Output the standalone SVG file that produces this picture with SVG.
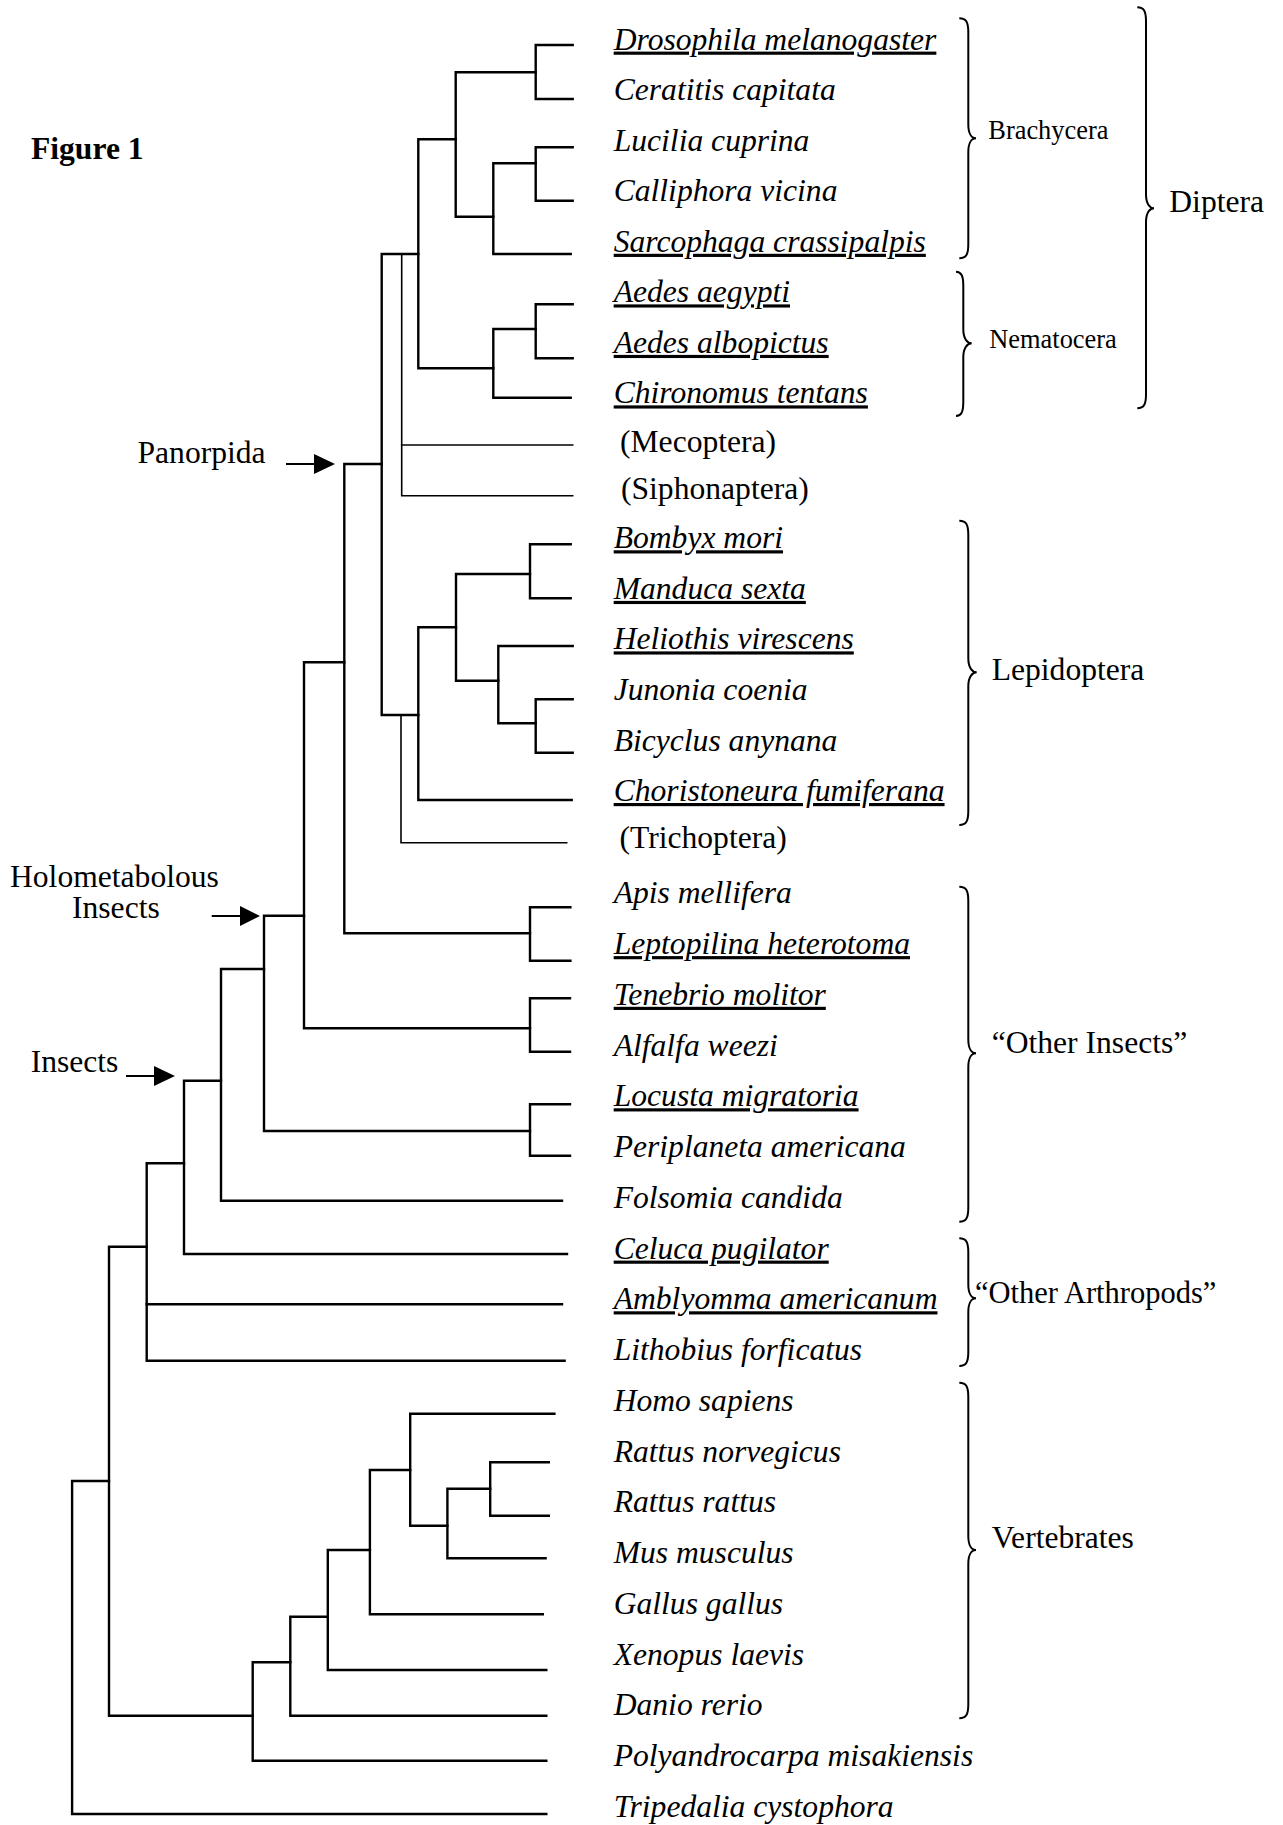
<svg xmlns="http://www.w3.org/2000/svg" width="1283" height="1825" viewBox="0 0 1283 1825">
<style>
text{font-family:"Liberation Serif","Times New Roman",serif;font-size:31.6px;fill:#000}
.sp{font-style:italic}
.u{text-decoration:underline}
.sm{font-size:26.4px}
.b{font-weight:bold}
.tr path{fill:none;stroke:#000;stroke-width:2.4;stroke-linejoin:miter;stroke-linecap:square}
.tr path.thin{stroke-width:1.6}
.br path{fill:none;stroke:#000;stroke-width:2}
.ar line{stroke:#000;stroke-width:2}
.ar polygon{fill:#000}
</style>
<rect width="1283" height="1825" fill="#fff"/>
<g id="connectors" class="tr">
<path d="M572.7 45 H535.7 V99 H572.7"/>
<path d="M535.7 72.3 H455.7 V216.7 H493.3"/>
<path d="M572.7 147.3 H535.7 V200.7 H572.7"/>
<path d="M535.7 163.3 H493.3 V254 H570.7"/>
<path d="M455.7 139.3 H418.3 V368.3 H493.3"/>
<path d="M572.7 304.3 H535.7 V358.3 H572.7"/>
<path d="M535.7 329 H493.3 V397.7 H570.7"/>
<path d="M418.3 254 H381.7 V715 H418.3"/>
<path class="thin" d="M401.7 254 V495.7 H572.7"/>
<path class="thin" d="M401.7 445 H572.7"/>
<path d="M381.7 464 H344.3 V933.3 H530"/>
<path d="M570.7 544.3 H530 V598.3 H570.7"/>
<path d="M530 574 H456 V680.7 H498.3"/>
<path d="M572.7 646 H498.3 V723.3 H535.7"/>
<path d="M572.7 699.3 H535.7 V752.7 H572.7"/>
<path d="M456 627.3 H418.3 V800 H571.7"/>
<path class="thin" d="M401 715 V842.7 H566.7"/>
<path d="M570.4 907.3 H530 V960.7 H570.4"/>
<path d="M344.3 662.3 H304 V1028.3 H530"/>
<path d="M570 998.3 H530 V1051.7 H570"/>
<path d="M304 915.7 H264 V1131 H530"/>
<path d="M570 1104.3 H530 V1155.7 H570"/>
<path d="M264 969 H221 V1200.7 H562"/>
<path d="M221 1080.7 H184 V1254 H567"/>
<path d="M184 1163.3 H146.7 V1360.7 H564.6"/>
<path d="M146.7 1304.3 H562"/>
<path d="M146.7 1246.7 H109 V1715.7 H252.7"/>
<path d="M109 1481 H72.1 V1814 H546.3"/>
<path d="M546.3 1760.7 H252.7 V1662.3 H290.3"/>
<path d="M546.3 1715.7 H290.3 V1616.7 H327.8"/>
<path d="M546.3 1670 H327.8 V1550 H369.9"/>
<path d="M542.8 1614.3 H369.9 V1470 H410.2"/>
<path d="M554.4 1413.7 H410.2 V1525.7 H447.4"/>
<path d="M545.6 1558.3 H447.4 V1488.7 H490.2"/>
<path d="M548.8 1462.3 H490.2 V1515.7 H548.8"/>
</g>
<g id="arrows" class="ar">
<line x1="286" y1="464" x2="318" y2="464"/><polygon points="314,454 335,464 314,474"/>
<line x1="211.7" y1="916" x2="243" y2="916"/><polygon points="240,906 260,916 240,926"/>
<line x1="126" y1="1076" x2="157" y2="1076"/><polygon points="154,1066 175,1076 154,1086"/>
</g>
<g id="braces" class="br">
<path d="M959.3 18.3 C966.3 18.3 968.3 22.3 968.3 32.3 L968.3 124.3 C968.3 134.3 972 138.3 976 138.3 C972 138.3 968.3 142.3 968.3 152.3 L968.3 244.3 C968.3 254.3 966.3 258.3 959.3 258.3"/>
<path d="M956 271.7 C961.3 271.7 963.3 275.7 963.3 285.7 L963.3 329.3 C963.3 339.3 967.7 343.3 971.7 343.3 C967.7 343.3 963.3 347.3 963.3 357.3 L963.3 402 C963.3 412 961.3 416 956 416"/>
<path d="M1137.3 7.3 C1144 7.3 1146 11.3 1146 21.3 L1146 194.3 C1146 204.3 1150 208.3 1154 208.3 C1150 208.3 1146 212.3 1146 222.3 L1146 394.3 C1146 404.3 1144 408.3 1137.3 408.3"/>
<path d="M959.3 520.7 C966.3 520.7 968.3 524.7 968.3 534.7 L968.3 658.3 C968.3 668.3 972.7 672.3 976.7 672.3 C972.7 672.3 968.3 676.3 968.3 686.3 L968.3 811 C968.3 821 966.3 825 959.3 825"/>
<path d="M959.3 886.7 C966.3 886.7 968.3 890.7 968.3 900.7 L968.3 1039.3 C968.3 1049.3 972 1053.3 976 1053.3 C972 1053.3 968.3 1057.3 968.3 1067.3 L968.3 1207.7 C968.3 1217.7 966.3 1221.7 959.3 1221.7"/>
<path d="M959.3 1238.3 C966.3 1238.3 968.3 1242.3 968.3 1252.3 L968.3 1284.3 C968.3 1294.3 972 1298.3 976 1298.3 C972 1298.3 968.3 1302.3 968.3 1312.3 L968.3 1352 C968.3 1362 966.3 1366 959.3 1366"/>
<path d="M959.3 1382.7 C966.3 1382.7 968.3 1386.7 968.3 1396.7 L968.3 1536 C968.3 1546 972 1550 976 1550 C972 1550 968.3 1554 968.3 1564 L968.3 1704.3 C968.3 1714.3 966.3 1718.3 959.3 1718.3"/>
</g>
<g id="title"><text class="b" x="31" y="159.3">Figure 1</text></g>
<g id="lbl-panorpida"><text x="137.5" y="463.3">Panorpida</text></g>
<g id="lbl-holometabolous"><text x="10" y="887.3">Holometabolous<tspan x="72" y="918.3">Insects</tspan></text></g>
<g id="lbl-insects"><text x="30.7" y="1071.5">Insects</text></g>
<g id="leaf-drosophila"><text class="sp u" x="613.7" y="49.6">Drosophila melanogaster</text></g>
<g id="leaf-ceratitis"><text class="sp" x="613.7" y="100.2">Ceratitis capitata</text></g>
<g id="leaf-lucilia"><text class="sp" x="613.7" y="150.7">Lucilia cuprina</text></g>
<g id="leaf-calliphora"><text class="sp" x="613.7" y="201.3">Calliphora vicina</text></g>
<g id="leaf-sarcophaga"><text class="sp u" x="613.7" y="251.8">Sarcophaga crassipalpis</text></g>
<g id="leaf-aedes-aegypti"><text class="sp u" x="613.7" y="302.4">Aedes aegypti</text></g>
<g id="leaf-aedes-albopictus"><text class="sp u" x="613.7" y="352.9">Aedes albopictus</text></g>
<g id="leaf-chironomus"><text class="sp u" x="613.7" y="403.4">Chironomus tentans</text></g>
<g id="leaf-mecoptera"><text x="620" y="451.5">(Mecoptera)</text></g>
<g id="leaf-siphonaptera"><text x="621" y="498.5">(Siphonaptera)</text></g>
<g id="leaf-bombyx"><text class="sp u" x="613.7" y="548.3">Bombyx mori</text></g>
<g id="leaf-manduca"><text class="sp u" x="613.7" y="598.9">Manduca sexta</text></g>
<g id="leaf-heliothis"><text class="sp u" x="613.7" y="649.4">Heliothis virescens</text></g>
<g id="leaf-junonia"><text class="sp" x="613.7" y="700">Junonia coenia</text></g>
<g id="leaf-bicyclus"><text class="sp" x="613.7" y="750.5">Bicyclus anynana</text></g>
<g id="leaf-choristoneura"><text class="sp u" x="613.7" y="801">Choristoneura fumiferana</text></g>
<g id="leaf-trichoptera"><text x="619.5" y="848.3">(Trichoptera)</text></g>
<g id="leaf-apis"><text class="sp" x="613.7" y="903.3">Apis mellifera</text></g>
<g id="leaf-leptopilina"><text class="sp u" x="613.7" y="954.1">Leptopilina heterotoma</text></g>
<g id="leaf-tenebrio"><text class="sp u" x="613.7" y="1004.8">Tenebrio molitor</text></g>
<g id="leaf-alfalfa"><text class="sp" x="613.7" y="1055.6">Alfalfa weezi</text></g>
<g id="leaf-locusta"><text class="sp u" x="613.7" y="1106.3">Locusta migratoria</text></g>
<g id="leaf-periplaneta"><text class="sp" x="613.7" y="1157.1">Periplaneta americana</text></g>
<g id="leaf-folsomia"><text class="sp" x="613.7" y="1207.8">Folsomia candida</text></g>
<g id="leaf-celuca"><text class="sp u" x="613.7" y="1258.6">Celuca pugilator</text></g>
<g id="leaf-amblyomma"><text class="sp u" x="613.7" y="1309.3">Amblyomma americanum</text></g>
<g id="leaf-lithobius"><text class="sp" x="613.7" y="1360">Lithobius forficatus</text></g>
<g id="leaf-homo"><text class="sp" x="613.7" y="1410.8">Homo sapiens</text></g>
<g id="leaf-rattus-norvegicus"><text class="sp" x="613.7" y="1461.6">Rattus norvegicus</text></g>
<g id="leaf-rattus-rattus"><text class="sp" x="613.7" y="1512.3">Rattus rattus</text></g>
<g id="leaf-mus"><text class="sp" x="613.7" y="1563">Mus musculus</text></g>
<g id="leaf-gallus"><text class="sp" x="613.7" y="1613.8">Gallus gallus</text></g>
<g id="leaf-xenopus"><text class="sp" x="613.7" y="1664.5">Xenopus laevis</text></g>
<g id="leaf-danio"><text class="sp" x="613.7" y="1715.3">Danio rerio</text></g>
<g id="leaf-polyandrocarpa"><text class="sp" x="613.7" y="1766">Polyandrocarpa misakiensis</text></g>
<g id="leaf-tripedalia"><text class="sp" x="613.7" y="1816.8">Tripedalia cystophora</text></g>
<g id="grp-brachycera"><text class="sm" x="988.3" y="139.3">Brachycera</text></g>
<g id="grp-nematocera"><text class="sm" x="989.3" y="347.7">Nematocera</text></g>
<g id="grp-diptera"><text x="1169.3" y="212.3">Diptera</text></g>
<g id="grp-lepidoptera"><text x="991.7" y="680">Lepidoptera</text></g>
<g id="grp-other-insects"><text x="991.7" y="1053.3">“Other Insects”</text></g>
<g id="grp-other-arthropods"><text x="975" y="1302.7" style="font-size:30.5px">“Other Arthropods”</text></g>
<g id="grp-vertebrates"><text x="991.8" y="1548.3">Vertebrates</text></g>
</svg>
